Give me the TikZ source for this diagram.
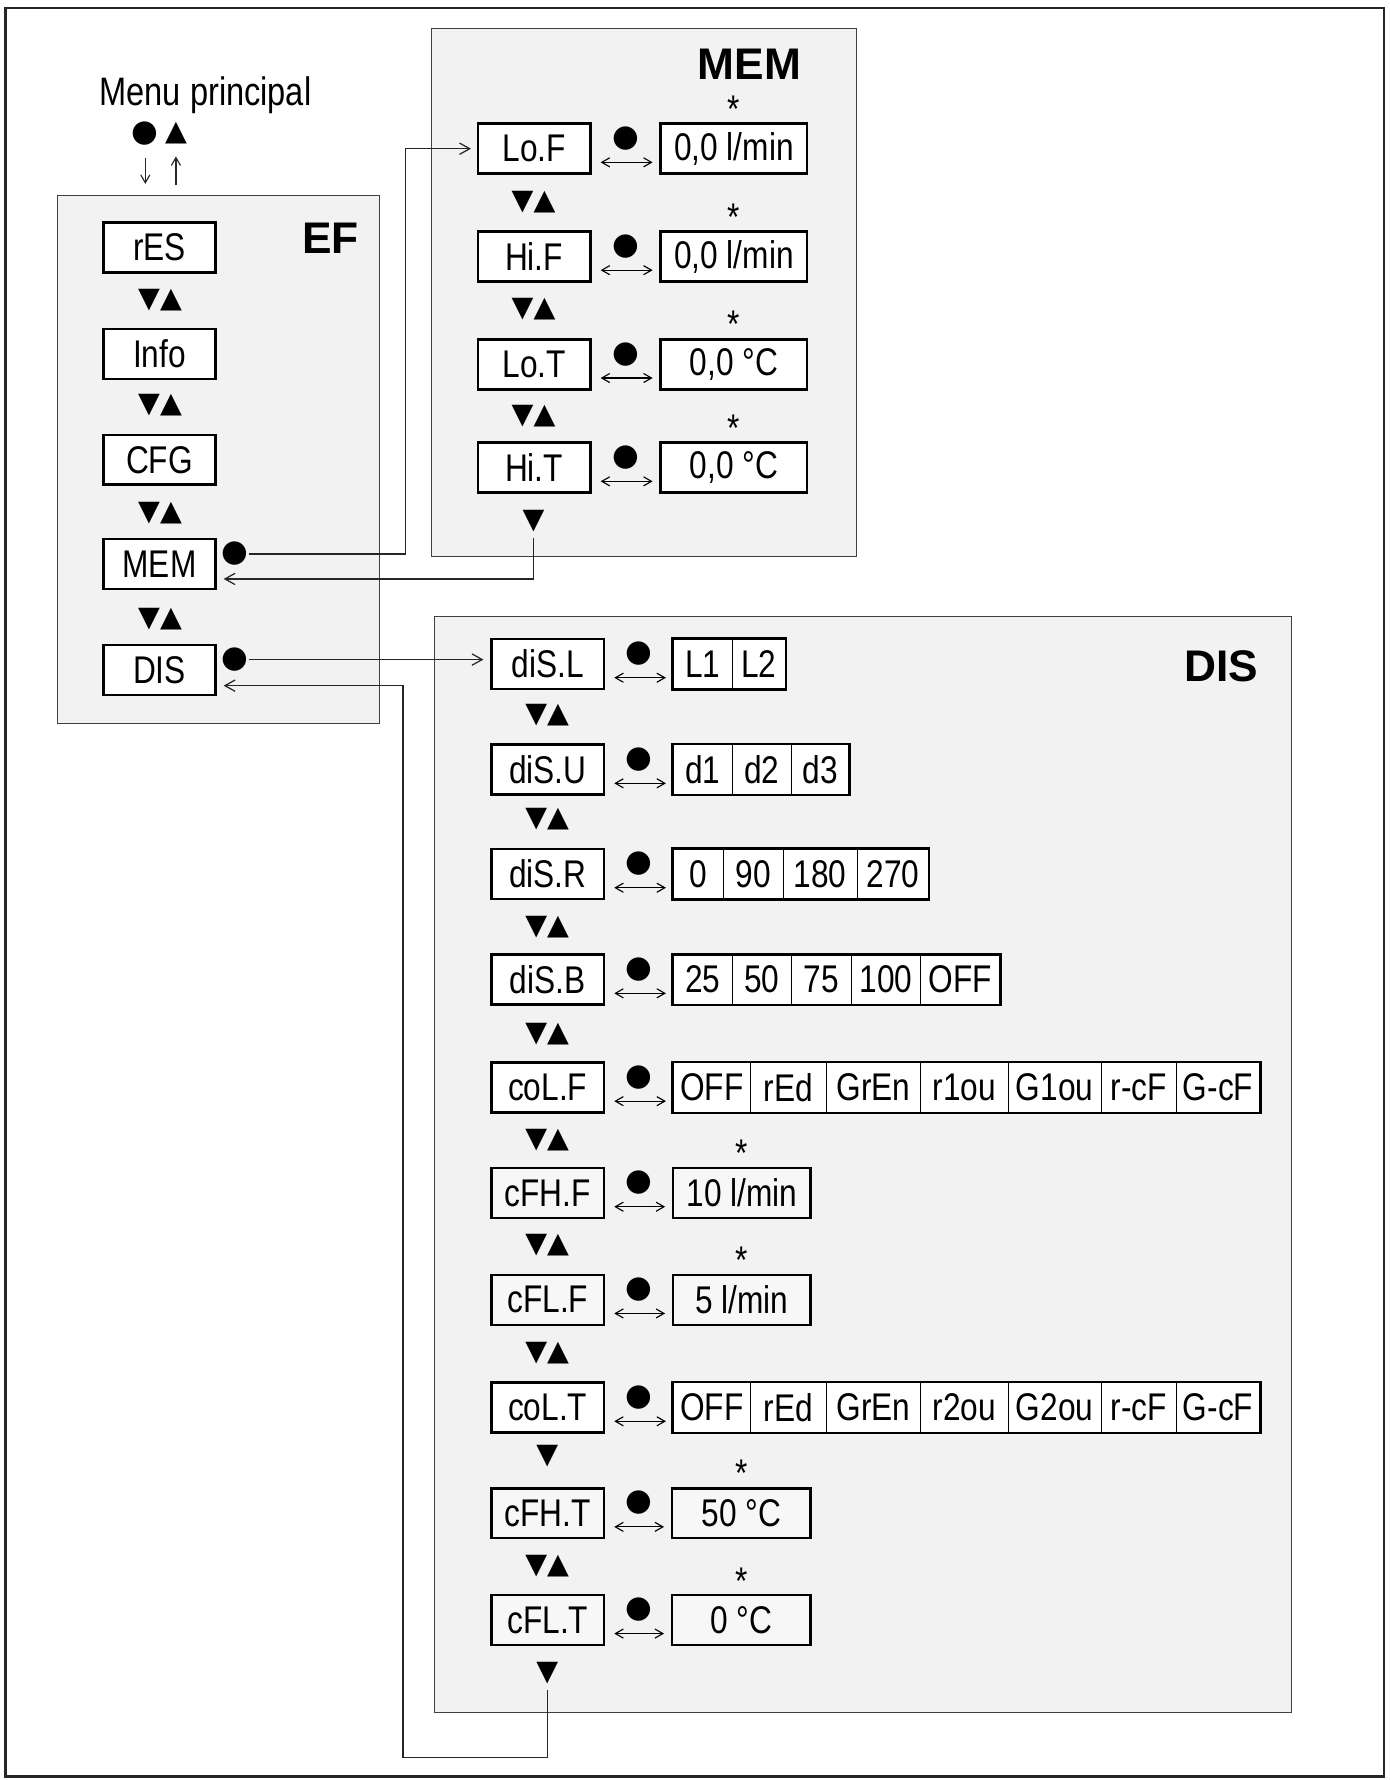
\documentclass[tikz,border=0pt]{standalone}
\usepackage{fontspec}
\setmainfont{Liberation Sans}[FakeStretch=0.82]
\newfontfamily\lblfont{Liberation Sans}
\newfontfamily\symfont{DejaVu Sans}
\usetikzlibrary{arrows.meta}

\tikzset{
  panel/.style={draw=black!75, line width=0.9pt, fill=black!5},
  keybox/.style={draw, line width=2.2pt, fill=white, minimum width=99pt, minimum height=44pt, inner sep=0pt, font=\fontsize{34}{34}\selectfont},
  graybox/.style={keybox, fill=black!3},
  valbox/.style={keybox},
  segbox/.style={draw, line width=0.8pt, fill=white, minimum height=44pt, inner sep=0pt, font=\fontsize{34}{34}\selectfont},
  outerseg/.style={draw, line width=2.2pt},
  dotsym/.style={inner sep=0pt, font=\symfont\fontsize{27}{27}\selectfont},
  tri/.style={inner sep=0pt, font=\symfont\fontsize{25}{25}\selectfont},
  astk/.style={inner sep=0pt, font=\fontsize{34}{34}\selectfont},
  title/.style={inner sep=0pt, font=\lblfont\bfseries\fontsize{39}{39}\selectfont},
  conn/.style={line width=1.1pt, draw=black!85},
  arr/.style={conn, -{Straight Barb[length=9pt,width=10pt,line width=1.1pt]}},
  smallarr/.style={conn, -{Straight Barb[length=7pt,width=8pt,line width=1pt]}},
  dbl/.style={line width=1pt, {Straight Barb[length=7pt,width=8pt,line width=1pt]}-{Straight Barb[length=7pt,width=8pt,line width=1pt]}},
}

% MEM row: name, y, key, value
\newcommand\memrow[4]{%
  \node[keybox] (#1) at (470.5,#2) {#3};
  \node[valbox, minimum width=129pt] (v#1) at (646.5,#2) {#4};
  \node[dotsym] (d#1) at (551,#2-9) {●};
  \node[astk] (s#1) at (646,#2-35) {*};
  \draw[dbl] ([shift={(8,12)}]#1.east) -- ([shift={(-6,12)}]v#1.west);
}
% DIS row: name, y, key, style
\newcommand\dsrow[4]{%
  \node[#4] (#1) at (482.5,#2) {#3};
  \node[dotsym] (d#1) at (563,#2-9) {●};
}
\newcommand\dsarrow[2]{%
  \draw[dbl] ([shift={(8,12)}]#1.east) -- ([shift={(-6,12)}]#2.west);
}
% segment: name, x1, x2, y, text
\newcommand\vseg[5]{%
  \node[segbox, minimum width={#3-#2}] (#1) at ({(#2+#3)/2},#4) {#5};
}

\begin{document}
\begin{tikzpicture}[x=1pt,y=-1pt]
\useasboundingbox (0,0) rectangle (1224,1568);
\fill[white] (0,0) rectangle (1224,1568);
\draw[line width=2.2pt, draw=black!85] (5,7) rectangle (1219,1565);

% panels
\node[panel, minimum width=284pt, minimum height=465pt, anchor=north west, inner sep=0pt] (ef) at (50,172) {};
\node[panel, minimum width=374pt, minimum height=465pt, anchor=north west, inner sep=0pt] (mem) at (380,25) {};
\node[panel, minimum width=755pt, minimum height=965pt, anchor=north west, inner sep=0pt] (dis) at (382,543) {};

\node[title] (tEF) at (291,210) {EF};
\node[title] (tMEM) at (660,57) {MEM};
\node[title] (tDIS) at (1076,587) {DIS};

% main menu
\node[font=\fontsize{35}{35}\selectfont, inner sep=0pt] (menu) at (181,84) {Menu principal};
\node[dotsym] (mdot) at (128,118) {●};
\node[tri] (mup) at (155,117) {▲};
\draw[smallarr] ([yshift=-11pt]mdot.south) -- ([yshift=10pt]mdot.south |- ef.north);
\draw[smallarr] ([yshift=9pt]mup.south |- ef.north) -- ([yshift=-11pt]mup.south);

% EF boxes
\node[keybox] (rES) at (140.5,218) {rES};
\node[keybox] (Info) at (140.5,312) {Info};
\node[keybox] (CFG) at (140.5,405) {CFG};
\node[keybox] (MEM) at (140.5,497) {MEM};
\node[keybox] (DIS) at (140.5,590) {DIS};
\node[tri] (e1) at (141,264) {▼▲};
\node[tri] (e2) at (141,357) {▼▲};
\node[tri] (e3) at (141,452) {▼▲};
\node[tri] (e4) at (141,545) {▼▲};
\node[dotsym] (memdot) at (207,488) {●};
\node[dotsym] (disdot) at (207,581) {●};

% MEM menu
\memrow{LoF}{131}{Lo.F}{0,0 l/min}
\memrow{HiF}{226}{Hi.F}{0,0 l/min}
\memrow{LoT}{321}{Lo.T}{0,0 °C}
\memrow{HiT}{412}{Hi.T}{0,0 °C}
\node[tri] (m1) at (470,178) {▼▲};
\node[tri] (m2) at (470,272) {▼▲};
\node[tri] (m3) at (470,367) {▼▲};
\node[tri] (mend) at (470,459) {▼};

% DIS menu
\dsrow{diSL}{585}{diS.L}{keybox}
\dsrow{diSU}{678}{diS.U}{keybox}
\dsrow{diSR}{770}{diS.R}{keybox}
\dsrow{diSB}{863}{diS.B}{keybox}
\dsrow{coLF}{958}{coL.F}{keybox}
\dsrow{cFHF}{1051}{cFH.F}{graybox}
\dsrow{cFLF}{1145}{cFL.F}{graybox}
\dsrow{coLT}{1240}{coL.T}{keybox}
\dsrow{cFHT}{1333}{cFH.T}{graybox}
\dsrow{cFLT}{1427}{cFL.T}{graybox}

\node[tri] (n1) at (482,630) {▼▲};
\node[tri] (n2) at (482,722) {▼▲};
\node[tri] (n3) at (482,817) {▼▲};
\node[tri] (n4) at (482,911) {▼▲};
\node[tri] (n5) at (482,1004) {▼▲};
\node[tri] (n6) at (482,1097) {▼▲};
\node[tri] (n7) at (482,1192) {▼▲};
\node[tri] (n8) at (482,1283) {▼};
\node[tri] (n9) at (482,1380) {▼▲};
\node[tri] (dend) at (482,1474) {▼};

% values
\vseg{sL1}{593}{645}{585}{L1}
\vseg{sL2}{645}{692}{585}{L2}
\draw[outerseg] (sL1.north west) rectangle (sL2.south east);
\dsarrow{diSL}{sL1}

\vseg{sU1}{593}{645}{678}{d1}
\vseg{sU2}{645}{697}{678}{d2}
\vseg{sU3}{697}{748}{678}{d3}
\draw[outerseg] (sU1.north west) rectangle (sU3.south east);
\dsarrow{diSU}{sU1}

\vseg{sR1}{593}{637}{770}{0}
\vseg{sR2}{637}{690}{770}{90}
\vseg{sR3}{690}{755}{770}{180}
\vseg{sR4}{755}{818}{770}{270}
\draw[outerseg] (sR1.north west) rectangle (sR4.south east);
\dsarrow{diSR}{sR1}

\vseg{sB1}{593}{645}{863}{25}
\vseg{sB2}{645}{697}{863}{50}
\vseg{sB3}{697}{750}{863}{75}
\vseg{sB4}{750}{811}{863}{100}
\vseg{sB5}{811}{881}{863}{OFF}
\draw[outerseg] (sB1.north west) rectangle (sB5.south east);
\dsarrow{diSB}{sB1}

\vseg{sF1}{593}{661}{958}{OFF}
\vseg{sF2}{661}{728}{958}{rEd}
\vseg{sF3}{728}{811}{958}{GrEn}
\vseg{sF4}{811}{888}{958}{r1ou}
\vseg{sF5}{888}{970}{958}{G1ou}
\vseg{sF6}{970}{1036}{958}{r-cF}
\vseg{sF7}{1036}{1110}{958}{G-cF}
\draw[outerseg] (sF1.north west) rectangle (sF7.south east);
\dsarrow{coLF}{sF1}

\node[graybox, minimum width=121pt] (vcFHF) at (653.5,1051) {10 l/min};
\node[astk] (scFHF) at (653,1016) {*};
\dsarrow{cFHF}{vcFHF}
\node[graybox, minimum width=121pt] (vcFLF) at (653.5,1145) {5 l/min};
\node[astk] (scFLF) at (653,1110) {*};
\dsarrow{cFLF}{vcFLF}

\vseg{sT1}{593}{661}{1240}{OFF}
\vseg{sT2}{661}{728}{1240}{rEd}
\vseg{sT3}{728}{811}{1240}{GrEn}
\vseg{sT4}{811}{888}{1240}{r2ou}
\vseg{sT5}{888}{970}{1240}{G2ou}
\vseg{sT6}{970}{1036}{1240}{r-cF}
\vseg{sT7}{1036}{1110}{1240}{G-cF}
\draw[outerseg] (sT1.north west) rectangle (sT7.south east);
\dsarrow{coLT}{sT1}

\node[graybox, minimum width=122pt] (vcFHT) at (653,1333) {50 °C};
\node[astk] (scFHT) at (653,1298) {*};
\dsarrow{cFHT}{vcFHT}
\node[graybox, minimum width=122pt] (vcFLT) at (653,1427) {0 °C};
\node[astk] (scFLT) at (653,1393) {*};
\dsarrow{cFLT}{vcFLT}

% connectors
\coordinate (j1) at (357,488);
\draw[arr, shorten >=5pt] (memdot.east) -- (j1) |- (LoF.west);
\coordinate (memIn) at (197,510);
\draw[arr] ([yshift=-5pt]mend.south) |- (memIn);
\draw[arr, shorten >=6pt] (disdot.east) -- (disdot.east -| diSL.west);
\coordinate (loopL) at (355,1548);
\coordinate (disIn) at (197,604);
\draw[arr] ([yshift=-5pt]dend.south) |- (loopL) |- (disIn);
\end{tikzpicture}
\end{document}
